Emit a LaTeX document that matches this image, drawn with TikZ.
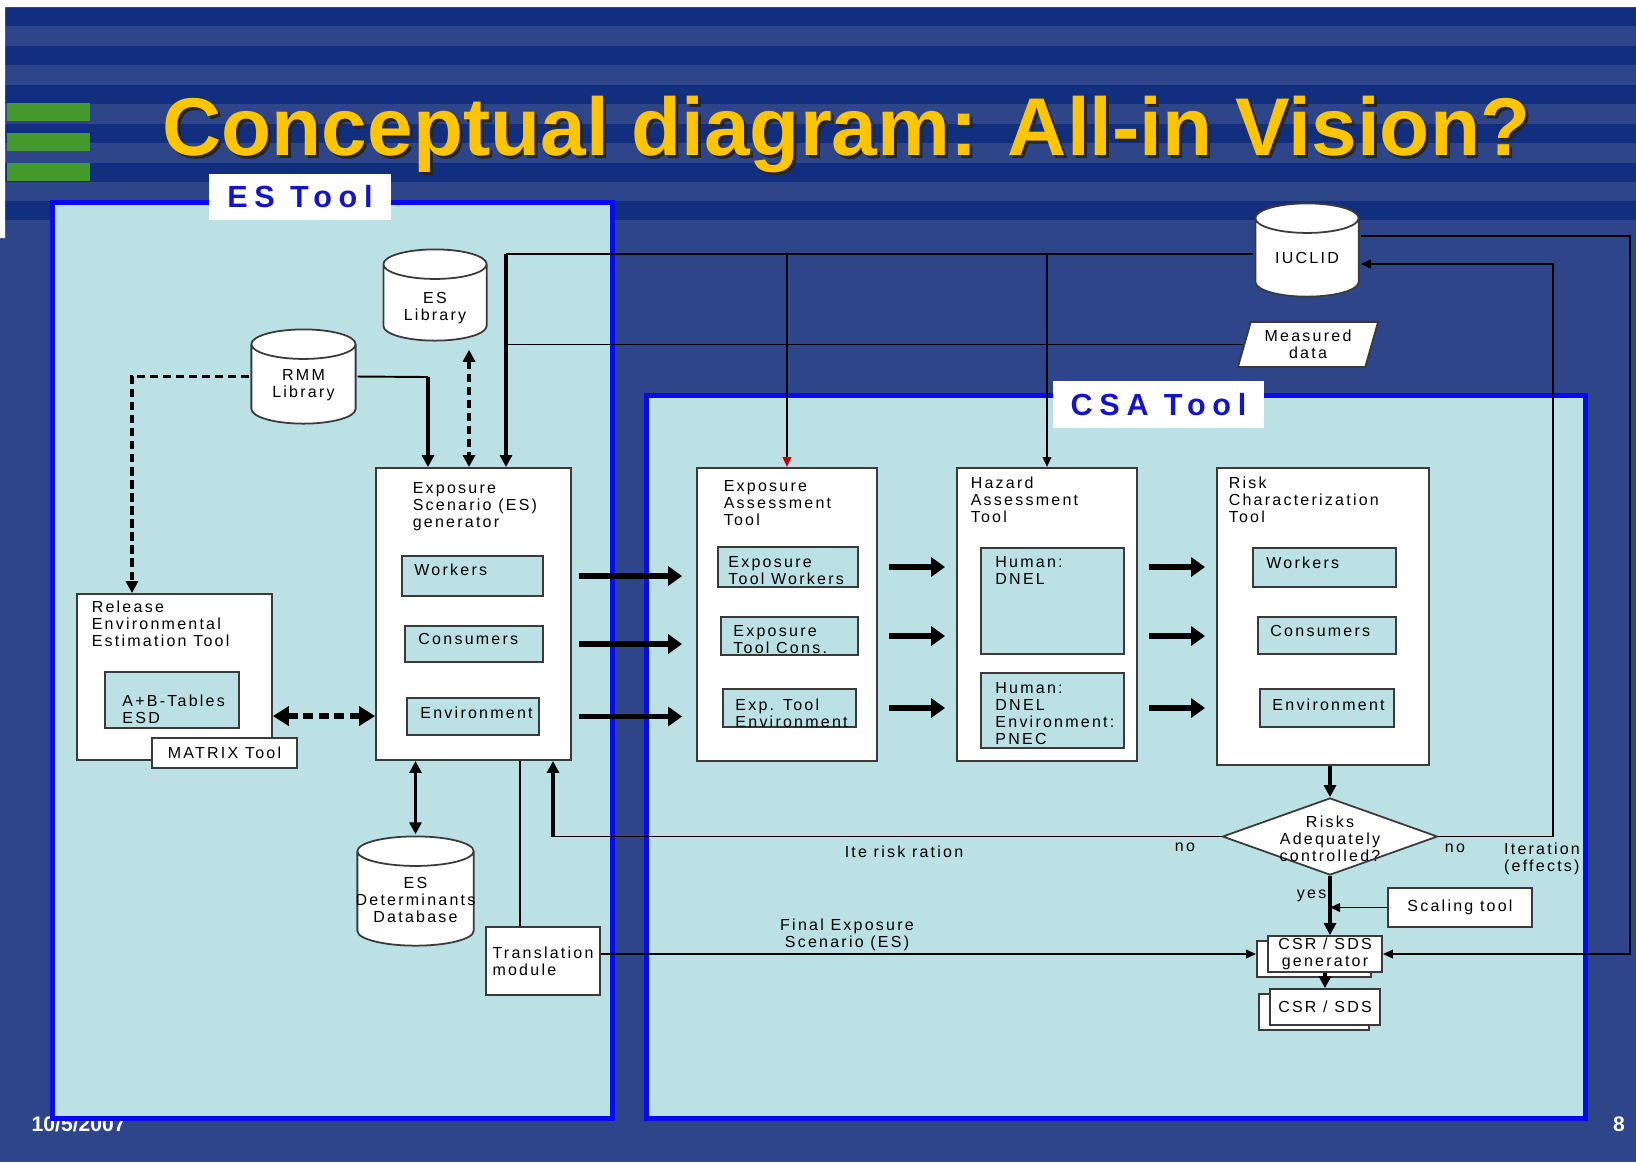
\documentclass[tikz,border=0pt]{standalone}
\usepackage{fontspec}
\setmainfont{Liberation Sans}
\newfontfamily\boxfont[LetterSpace=14]{Liberation Sans}
\newfontfamily\tagfont[LetterSpace=22]{Liberation Sans}
\usetikzlibrary{positioning,calc,arrows.meta,shapes.geometric,shadows}

\definecolor{slidebg}{HTML}{2E4589}
\definecolor{stripe}{HTML}{122E7E}
\definecolor{bar}{HTML}{43992C}
\definecolor{titleyellow}{HTML}{FCC500}
\definecolor{toolfill}{HTML}{BCE1E5}
\definecolor{toolblue}{HTML}{0A0AF0}
\definecolor{tagblue}{HTML}{1414C8}
\definecolor{edge}{HTML}{3A3A3A}

\begin{document}
\begin{tikzpicture}
  [x=0.01cm, y=-0.01cm,
   heading/.style={inner sep=0pt, font=\bfseries\fontsize{23.3}{28}\selectfont},
   foot/.style={inner sep=0pt, text=white, font=\bfseries\fontsize{6}{7}\selectfont},
   frame/.style={draw=toolblue, line width=0.05cm, fill=toolfill, inner sep=0pt},
   tag/.style={fill=white, text=tagblue, inner sep=0pt, font=\tagfont\bfseries\fontsize{8.7}{10}\selectfont},
   txt/.style={inner sep=0pt, align=left, font=\boxfont\fontsize{4.55}{4.84}\selectfont},
   ctxt/.style={txt, align=center},
   toolbox/.style={draw=edge, line width=0.5pt, fill=white, inner sep=0pt},
   subbox/.style={draw=edge, line width=0.7pt, fill=toolfill, inner sep=0pt},
   plainbox/.style={toolbox, txt, inner sep=0pt},
   docbox/.style={plainbox, align=center,
     copy shadow={shadow xshift=-0.11cm, shadow yshift=-0.05cm, draw=edge, fill=white, line width=0.5pt}},
   decision/.style={diamond, draw=edge, line width=0.5pt, fill=white, inner sep=0pt,
     minimum width=2.15cm, minimum height=0.77cm},
   slanted/.style={trapezium, trapezium left angle=66, trapezium right angle=114,
     trapezium stretches body, draw=edge, line width=0.5pt, fill=white, inner sep=0.5pt,
     minimum width=1.40cm, minimum height=0.45cm, ctxt},
   drum/.style={inner sep=0pt, path picture={
     \draw[edge, line width=0.5pt, fill=white]
       let \p1=(path picture bounding box.north west), \p2=(path picture bounding box.south east),
           \n1={(\x2-\x1)/2-0.4} in
       ({\x1+0.4pt},{\y1-4.6pt}) -- ({\x1+0.4pt},{\y2+4.6pt})
       arc[start angle=180, end angle=360, x radius={\n1*1pt}, y radius=4.2pt]
       -- ({\x2-0.4pt},{\y1-4.6pt})
       arc[start angle=0, end angle=180, x radius={\n1*1pt}, y radius=4.2pt] -- cycle
       ({\x1+0.4pt},{\y1-4.6pt})
       arc[start angle=180, end angle=360, x radius={\n1*1pt}, y radius=4.2pt];}},
   thinline/.style={line width=0.55pt, black},
   thinarrow/.style={thinline, -{Triangle[length=0.1cm, width=0.085cm]}},
   medarrow/.style={line width=1.1pt, black, -{Triangle[length=0.12cm, width=0.12cm]}},
   dblarrow/.style={medarrow, {Triangle[length=0.12cm, width=0.12cm]}-{Triangle[length=0.12cm, width=0.12cm]}},
   dasharrow/.style={medarrow, dash pattern=on 2.3pt off 1.4pt},
   dashdbl/.style={dblarrow, dash pattern=on 2.3pt off 1.4pt},
   bigdash/.style={line width=1.6pt, black, dash pattern=on 2.8pt off 1.6pt,
     {Triangle[length=0.16cm, width=0.19cm]}-{Triangle[length=0.16cm, width=0.19cm]}},
   fatarrow/.style={line width=1.5pt, black, -{Triangle[length=0.14cm, width=0.19cm]}}]

  % Slide background
  \useasboundingbox (0,0) rectangle (1636,1162);
  \fill[slidebg] (0,0) rectangle (1636,1162);
  \foreach \y in {7,46,85,124,163,201}
    \fill[stripe] (0,\y) rectangle (1636,\y+19);
  \fill[white] (0,0) rectangle (1636,7) (0,0) rectangle (5,238);
  \foreach \y in {103,133,163}
    \fill[bar] (7,\y) rectangle (90,\y+18);

  % Title
  \node[heading, text=black!85, anchor=base west] (titleshadow) at (165,158) {Conceptual diagram: All-in Vision?};
  \node[heading, text=titleyellow, anchor=base west] (title) at (162,155) {Conceptual diagram: All-in Vision?};

  % Footer
  \node[foot, anchor=west] (date) at (31,1124) {10/5/2007};
  \node[foot] (pagenum) at (1619,1124) {8};

  % Tool frames
  \node[frame, minimum width=5.595cm, minimum height=9.155cm] (estool) at (332.25,660.25) {};
  \node[frame, minimum width=9.38cm, minimum height=7.22cm] (csatool) at (1116,757) {};
  \node[tag, minimum width=1.82cm, minimum height=0.46cm] (estag) at (300,196.5) {ES Tool};
  \node[tag, minimum width=2.11cm, minimum height=0.47cm] (csatag) at (1158.5,404.5) {CSA Tool};

  % Databases
  \node[drum, minimum width=1.06cm, minimum height=0.96cm] (iuclid) at (1307,250) {};
  \node[txt] (iuclidtxt) at ([yshift=-0.08cm]iuclid.center) {IUCLID};
  \node[drum, minimum width=1.06cm, minimum height=0.94cm] (eslib) at (435,295) {};
  \node[ctxt] (eslibtxt) at ([yshift=-0.135cm]eslib.center) {ES\\Library};
  \node[drum, minimum width=1.07cm, minimum height=0.97cm] (rmm) at (303.5,376.5) {};
  \node[ctxt] (rmmtxt) at ([yshift=-0.085cm]rmm.center) {RMM\\Library};
  \node[drum, minimum width=1.19cm, minimum height=1.12cm] (esdb) at (415.5,891) {};
  \node[ctxt] (esdbtxt) at ([yshift=-0.09cm]esdb.center) {ES\\Determinants\\Database};
  \node[slanted] (meas) at (1308,344.5) {Measured\\data};

  % ES generator
  \node[toolbox, minimum width=1.95cm, minimum height=2.92cm] (gen) at (473.5,614) {};
  \node[txt, below right=0.15cm and 0.37cm of gen.north west] (gentitle) {Exposure\\Scenario (ES)\\generator};
  \node[subbox, minimum width=1.41cm, minimum height=0.40cm] (genwork) at (472.5,576) {};
  \node[txt, below right=0.08cm and 0.13cm of genwork.north west] (genworktxt) {Workers};
  \node[subbox, minimum width=1.38cm, minimum height=0.36cm] (gencons) at (474,644) {};
  \node[txt, below right=0.08cm and 0.14cm of gencons.north west] (genconstxt) {Consumers};
  \node[subbox, minimum width=1.32cm, minimum height=0.37cm] (genenv) at (473,716.5) {};
  \node[txt, below right=0.09cm and 0.14cm of genenv.north west] (genenvtxt) {Environment};

  % Release tool
  \node[toolbox, minimum width=1.95cm, minimum height=1.66cm] (rel) at (174.5,677) {};
  \node[txt, below right=0.07cm and 0.15cm of rel.north west] (reltitle) {Release\\Environmental\\Estimation Tool};
  \node[subbox, minimum width=1.34cm, minimum height=0.56cm] (abtab) at (172,700) {};
  \node[txt, below right=0.23cm and 0.18cm of abtab.north west] (abtabtxt) {A+B-Tables\\ESD};
  \node[plainbox, minimum width=1.45cm, minimum height=0.30cm] (matrixtool) at (224.5,753) {MATRIX Tool};

  % Exposure assessment
  \node[toolbox, minimum width=1.80cm, minimum height=2.93cm] (ea) at (787,614.5) {};
  \node[txt, below right=0.13cm and 0.27cm of ea.north west] (eatitle) {Exposure\\Assessment\\Tool};
  \node[subbox, minimum width=1.40cm, minimum height=0.40cm] (eawork) at (788,567) {};
  \node[txt, below right=0.10cm and 0.11cm of eawork.north west] (eaworktxt) {Exposure\\Tool Workers};
  \node[subbox, minimum width=1.37cm, minimum height=0.38cm] (eacons) at (789.5,636) {};
  \node[txt, below right=0.09cm and 0.13cm of eacons.north west] (eaconstxt) {Exposure\\Tool Cons.};
  \node[subbox, minimum width=1.33cm, minimum height=0.38cm] (eaenv) at (789.5,708) {};
  \node[txt, below right=0.10cm and 0.13cm of eaenv.north west] (eaenvtxt) {Exp. Tool\\Environment};

  % Hazard assessment
  \node[toolbox, minimum width=1.80cm, minimum height=2.93cm] (ha) at (1047,614.5) {};
  \node[txt, below right=0.09cm and 0.14cm of ha.north west] (hatitle) {Hazard\\Assessment\\Tool};
  \node[subbox, minimum width=1.43cm, minimum height=1.06cm] (hahum) at (1052.5,601) {};
  \node[txt, below right=0.09cm and 0.15cm of hahum.north west] (hahumtxt) {Human:\\DNEL};
  \node[subbox, minimum width=1.43cm, minimum height=0.75cm] (haenv) at (1052.5,710.5) {};
  \node[txt, below right=0.10cm and 0.15cm of haenv.north west] (haenvtxt) {Human:\\DNEL\\Environment:\\PNEC};

  % Risk characterization
  \node[toolbox, minimum width=2.12cm, minimum height=2.97cm] (rc) at (1323,616.5) {};
  \node[txt, below right=0.09cm and 0.12cm of rc.north west] (rctitle) {Risk\\Characterization\\Tool};
  \node[subbox, minimum width=1.43cm, minimum height=0.39cm] (rcwork) at (1324.5,567.5) {};
  \node[txt, below right=0.09cm and 0.14cm of rcwork.north west] (rcworktxt) {Workers};
  \node[subbox, minimum width=1.38cm, minimum height=0.37cm] (rccons) at (1327,635.5) {};
  \node[txt, below right=0.09cm and 0.13cm of rccons.north west] (rcconstxt) {Consumers};
  \node[subbox, minimum width=1.34cm, minimum height=0.38cm] (rcenv) at (1327,708) {};
  \node[txt, below right=0.10cm and 0.13cm of rcenv.north west] (rcenvtxt) {Environment};

  % Decision and outputs
  \node[decision] (risk) at (1330,836.5) {};
  \node[ctxt] (risktxt) at (1330,839) {Risks\\Adequately\\controlled?};
  \node[plainbox, minimum width=1.44cm, minimum height=0.39cm] (scal) at (1460,907.5) {Scaling tool};
  \node[docbox, minimum width=1.14cm, minimum height=0.36cm] (csrgen) at (1325,954) {CSR / SDS\\generator};
  \node[docbox, minimum width=1.10cm, minimum height=0.36cm] (csrsds) at (1325,1007) {CSR / SDS};
  \node[plainbox, minimum width=1.14cm, minimum height=0.68cm, align=left] (trans) at (543,961) {Translation\\module};

  % Feeds from the top
  \coordinate (bus) at (506,254);
  \coordinate (rmmturn) at (428,377);
  \coordinate (libdrop) at ([xshift=0.34cm,yshift=-0.07cm]eslib.south);
  \coordinate (reltop) at ([xshift=-0.425cm]rel.north);
  \coordinate (relmid) at ([yshift=-0.39cm]rel.east);
  \draw[thinline] (bus) -- (bus -| iuclid.west);
  \draw[thinline] (bus |- meas.west) -- (meas.west);
  \draw[medarrow] (bus) -- (bus |- gen.north);
  \draw[thinarrow, -{Triangle[length=0.1cm, width=0.085cm, color=red!75!black]}] (bus -| ea.north) -- (ea.north);
  \draw[thinarrow] (bus -| ha.north) -- (ha.north);
  \draw[thinline] (rmm.east) -- (rmmturn);
  \draw[medarrow] (rmmturn) -- (rmmturn |- gen.north);
  \draw[dasharrow] (rmm.west) -| (reltop);
  \draw[dashdbl] (libdrop) -- (libdrop |- gen.north);
  \draw[bigdash] (relmid) -- (relmid -| gen.west);
  \draw[dblarrow] (gen.south -| esdb.north) -- (esdb.north);

  % Scenario flow
  \foreach \s in {work,cons,env} {
    \draw[fatarrow, shorten <=0.07cm, shorten >=0.14cm] (gen\s.east -| gen.east) -- (gen\s.east -| ea.west);
    \draw[fatarrow, shorten <=0.11cm, shorten >=0.11cm] (ea\s.east -| ea.east) -- (ea\s.east -| ha.west);
    \draw[fatarrow, shorten <=0.11cm, shorten >=0.11cm] (ea\s.east -| ha.east) -- (ea\s.east -| rc.west);
  }

  % Iterations
  \coordinate (loopl) at (553,836.5);
  \coordinate (loopr) at (1553,836.5);
  \coordinate (edgetop) at (1630,236);
  \coordinate (transup) at ([xshift=-0.23cm]trans.north);
  \draw[thinline] (risk.west) -- (loopl);
  \draw[medarrow] (loopl) -- (loopl |- gen.south);
  \draw[thinarrow] (risk.east) -- (loopr) |- ([yshift=-0.14cm]iuclid.east);
  \draw[medarrow] (risk.north |- rc.south) -- (risk.north);
  \draw[medarrow] (risk.south) -- (risk.south |- csrgen.north);
  \draw[thinarrow] (scal.west) -- (scal.west -| risk.south);
  \draw[medarrow] (csrgen.south) -- (csrsds.north);
  \draw[thinline] (transup) -- (transup |- gen.south);
  \draw[thinarrow, shorten >=0.11cm] (trans.east |- csrgen.west) -- (csrgen.west);
  \draw[thinarrow] (edgetop -| iuclid.east) -- (edgetop) |- (csrgen.east);

  % Labels
  \node[ctxt] (finales) at (847,935) {Final Exposure\\Scenario (ES)};
  \node[txt] (iterrisk) at (904,852) {Ite risk ration};
  \node[txt] (noleft) at (1185,847) {no};
  \node[txt] (noright) at (1455,848) {no};
  \node[txt] (itereff) at (1542,859) {Iteration\\(effects)};
  \node[txt, anchor=east] (yes) at (1327,896) {yes};
\end{tikzpicture}
\end{document}
